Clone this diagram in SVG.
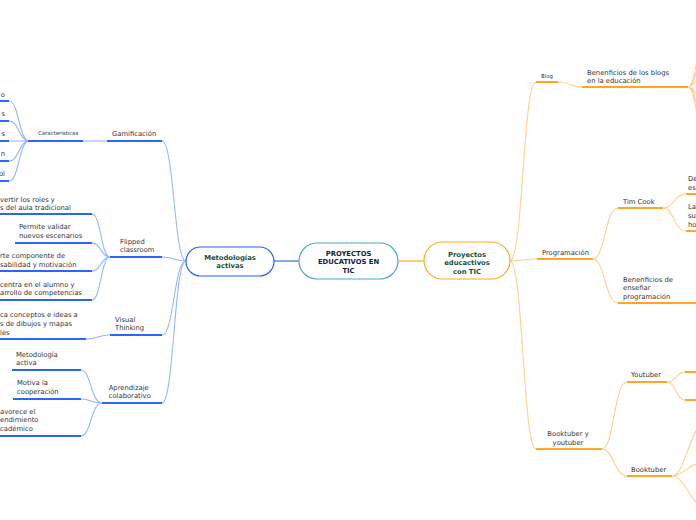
<svg xmlns="http://www.w3.org/2000/svg" width="696" height="520" viewBox="0 0 696 520">
<style>
.t{font-family:"DejaVu Sans",Verdana,sans-serif;font-size:6.8px;fill:#333}
.s{font-family:"DejaVu Sans",Verdana,sans-serif;font-size:5.4px;fill:#333}
.b{font-family:"DejaVu Sans",Verdana,sans-serif;font-size:6.8px;font-weight:bold;text-anchor:middle}
.bc{fill:none;stroke:#94b6ff;stroke-width:1.1}
.bu{fill:none;stroke:#2d66f5;stroke-width:2}
.oc{fill:none;stroke:#ffcf8c;stroke-width:1.1}
.ou{fill:none;stroke:#ffa526;stroke-width:2}
</style>
<rect width="696" height="520" fill="#fff"/>
<g id="connectors">
<line x1="274" y1="261" x2="299" y2="261" stroke="#3a6fdc" stroke-width="1.2"/>
<line x1="399" y1="261" x2="424" y2="261" stroke="#ffa726" stroke-width="1.2"/>
<path class="bc" d="M162,141 C174,141 174,261 186,261 M162,257 C174,257 174,261 186,261 M162,335 C174,335 174,261 186,261 M162,403 C174,403 174,261 186,261"/>
<path class="bc" d="M83,141 C95,141 95,141 107,141"/>
<path class="bc" d="M9,101 C19,101 19,141 29,141 M9,121 C19,121 19,141 29,141 M9,141 L29,141 M9,161 C19,161 19,141 29,141 M9,181 C19,181 19,141 29,141"/>
<path class="bc" d="M92,214 C101,214 101,257 110,257 M92,243 C101,243 101,257 110,257 M92,271 C101,271 101,257 110,257 M92,300 C101,300 101,257 110,257"/>
<path class="bc" d="M86,339 C98,339 98,335 110,335"/>
<path class="bc" d="M81,370 C91,370 91,403 102,403 M81,399 C91,399 91,403 102,403 M81,436 C91,436 91,403 102,403"/>
<path class="bu" d="M107,141H162 M28,141H83 M0,101H9 M0,121H9 M0,141H9 M0,161H9 M0,181H9 M110,257H162 M0,214H92 M15,243H92 M0,271H92 M0,300H92 M110,335H162 M0,339H86 M102,403H162 M12,370H81 M13,399H81 M0,436H81"/>
<path class="oc" d="M510,261 C523,261 523,82 536,82 M510,261 C523,261 523,259 537,259 M510,261 C523,261 523,449 536,449"/>
<path class="oc" d="M558,82 C570,82 570,87 582,87"/>
<path class="oc" d="M688,87 C697,87 696,30 712,30 M688,87 C697,87 696,50 712,50 M688,87 C697,87 696,70 712,70 M688,87 C697,87 696,105 712,105 M688,87 C697,87 696,125 712,125 M688,87 C697,87 696,145 712,145"/>
<path class="oc" d="M593,259 C605,259 605,208 618,208 M593,259 C605,259 605,303 618,303"/>
<path class="oc" d="M663,208 C674,208 674,194 686,194 M663,208 C674,208 674,231 686,231"/>
<path class="oc" d="M602,449 C614,449 614,382 627,382 M602,449 C614,449 614,476 627,476"/>
<path class="oc" d="M667,382 C676,382 676,372 685,372 M667,382 C676,382 676,400 685,400"/>
<path class="oc" d="M672,476 C686,476 690,420 710,418 M672,476 C684,476 688,462 708,462 M672,476 C686,476 690,508 710,510"/>
<path class="ou" d="M536,82H558 M582,87H688 M537,259H593 M618,208H663 M618,303H700 M686,194H700 M686,231H700 M536,449H602 M627,382H667 M627,476H672 M685,372H700 M685,400H700"/>
</g>
<g id="central">
<rect x="299" y="243" width="99" height="36" rx="18" fill="#fff" stroke="#4da3e0" stroke-width="1.2"/>
<text class="b" x="348.5" fill="#0d2240"><tspan x="348.5" y="255.5">PROYECTOS</tspan><tspan x="348.5" y="264">EDUCATIVOS EN</tspan><tspan x="348.5" y="272.5">TIC</tspan></text>
</g>
<g id="metodologias">
<rect x="186" y="247" width="88" height="29" rx="14.5" fill="#fff" stroke="#2962ff" stroke-width="1.2"/>
<text class="b" fill="#1b4d3e"><tspan x="230" y="259.8">Metodologías</tspan><tspan x="230" y="268">activas</tspan></text>
</g>
<g id="proyectos">
<rect x="424" y="242" width="86" height="37" rx="18.5" fill="#fff" stroke="#ffa726" stroke-width="1.2"/>
<text class="b" fill="#1b4d3e"><tspan x="467" y="256.5">Proyectos</tspan><tspan x="467" y="265">educactivos</tspan><tspan x="467" y="273.5">con TIC</tspan></text>
</g>
<g id="gamificacion"><text class="t" x="112" y="136">Gamificación</text></g>
<g id="caracteristicas"><text class="s" x="38" y="134.7">Características</text></g>
<g id="car-leaves">
<text class="t" x="5" y="96.5" text-anchor="end">o</text>
<text class="t" x="5" y="116.3" text-anchor="end">s</text>
<text class="t" x="5" y="136" text-anchor="end">s</text>
<text class="t" x="5" y="156" text-anchor="end">n</text>
<text class="t" x="5" y="176" text-anchor="end">ol</text>
</g>
<g id="flipped"><text class="t"><tspan x="120" y="244.2">Flipped</tspan><tspan x="120" y="252.2">classroom</tspan></text></g>
<g id="flipped-1"><text class="t"><tspan x="0" y="201.5">vertir los roles y</tspan><tspan x="0" y="209.8">s del aula tradicional</tspan></text></g>
<g id="flipped-2"><text class="t"><tspan x="19" y="229.2">Permite validar</tspan><tspan x="19" y="238.2">nuevos escenarios</tspan></text></g>
<g id="flipped-3"><text class="t"><tspan x="0" y="258.2">rte componente de</tspan><tspan x="0" y="266.6">sabilidad y motivación</tspan></text></g>
<g id="flipped-4"><text class="t"><tspan x="0" y="286.5">centra en el alumno y</tspan><tspan x="0" y="295.2">arrollo de competencias</tspan></text></g>
<g id="visual"><text class="t"><tspan x="115" y="321.8">Visual</tspan><tspan x="115" y="330.2">Thinking</tspan></text></g>
<g id="visual-1"><text class="t"><tspan x="0" y="317.2">ca conceptos e ideas a</tspan><tspan x="0" y="326.2">s de dibujos y mapas</tspan><tspan x="0" y="334.5">les</tspan></text></g>
<g id="aprendizaje"><text class="t"><tspan x="108.7" y="390.2">Aprendizaje</tspan><tspan x="108.7" y="398.4">colaborativo</tspan></text></g>
<g id="apr-1"><text class="t"><tspan x="16" y="356.8">Metodología</tspan><tspan x="16" y="365.2">activa</tspan></text></g>
<g id="apr-2"><text class="t"><tspan x="17" y="384.8">Motiva la</tspan><tspan x="17" y="393.5">cooperación</tspan></text></g>
<g id="apr-3"><text class="t"><tspan x="0" y="413.5">avorece el</tspan><tspan x="0" y="421.8">endimiento</tspan><tspan x="0" y="430.8">cadémico</tspan></text></g>
<g id="blog"><text class="s" x="541" y="78">Blog</text></g>
<g id="beneficios-blogs"><text class="t"><tspan x="587" y="74.5">Benenficios de los blogs</tspan><tspan x="587" y="82.8">en la educación</tspan></text></g>
<g id="programacion"><text class="t" x="542" y="255.2">Programación</text></g>
<g id="timcook"><text class="t" x="623" y="204.2">Tim Cook</text></g>
<g id="tc-1"><text class="t"><tspan x="688" y="180.8">De</tspan><tspan x="688" y="189.8">es</tspan></text></g>
<g id="tc-2"><text class="t"><tspan x="688" y="209.2">La</tspan><tspan x="688" y="218.2">su</tspan><tspan x="688" y="226.8">ho</tspan></text></g>
<g id="beneficios-prog"><text class="t"><tspan x="623" y="281.5">Benenficios de</tspan><tspan x="623" y="289.8">enseñar</tspan><tspan x="623" y="298.8">programación</tspan></text></g>
<g id="booktuber-youtuber"><text class="t" text-anchor="middle"><tspan x="568" y="435.8">Booktuber y</tspan><tspan x="568" y="444.8">youtuber</tspan></text></g>
<g id="youtuber"><text class="t" x="631" y="376.8">Youtuber</text></g>
<g id="booktuber"><text class="t" x="631" y="471.8">Booktuber</text></g>
</svg>
